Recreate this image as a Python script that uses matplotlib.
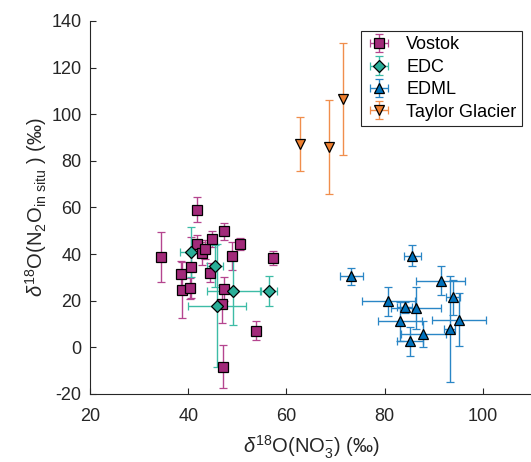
import numpy as np
import matplotlib
matplotlib.use('Agg')
import matplotlib.pyplot as plt

plt.rcParams['font.family'] = ['Liberation Sans', 'DejaVu Sans']
plt.rcParams['mathtext.fontset'] = 'custom'
plt.rcParams['mathtext.rm'] = 'Liberation Sans'
plt.rcParams['mathtext.it'] = 'Liberation Sans:italic'
plt.rcParams['axes.unicode_minus'] = False

# Vostok
vostok_x = [34.4, 38.6, 38.8, 40.6, 40.4, 41.8, 41.8, 42.8, 43.4, 44.4, 44.8, 47.3, 47.3, 46.8, 47.1, 49.0, 50.5, 53.7, 57.2]
vostok_y = [38.6, 31.4, 24.7, 34.3, 25.3, 59.0, 44.3, 40.3, 42.1, 32.1, 46.4, 49.7, 25.0, 18.6, -8.3, 39.3, 44.3, 7.1, 38.3]
vostok_xerr = [0.0, 0.6, 0.6, 0.6, 0.6, 0.6, 0.6, 0.6, 0.6, 0.6, 0.6, 0.6, 0.6, 0.6, 0.6, 0.6, 0.6, 0.6, 0.6]
vostok_yerr = [10.7, 5.5, 12.0, 13.0, 4.5, 5.3, 4.0, 5.0, 4.0, 4.0, 3.5, 3.5, 5.0, 8.0, 9.3, 6.0, 2.5, 4.0, 3.0]

# EDC
edc_x = [40.5, 45.5, 45.8, 49.2, 56.4]
edc_y = [40.9, 34.7, 17.9, 24.1, 24.3]
edc_xerr = [2.2, 1.6, 5.9, 5.4, 1.6]
edc_yerr = [10.6, 9.0, 26.5, 14.3, 6.4]

# EDML
edml_x = [73.2, 85.6, 91.4, 93.9, 80.7, 84.1, 86.3, 83.1, 95.1, 93.2, 87.9, 85.2]
edml_y = [30.4, 39.4, 28.6, 21.4, 19.7, 17.1, 16.9, 11.1, 11.9, 7.9, 5.7, 2.6]
edml_xerr = [2.3, 1.7, 5.0, 1.5, 5.4, 1.5, 5.1, 4.5, 5.5, 1.2, 4.6, 2.7]
edml_yerr = [3.6, 4.6, 6.1, 7.6, 6.2, 2.5, 9.0, 8.5, 11.5, 22.7, 5.4, 6.2]

# Taylor Glacier
tg_x = [62.7, 68.7, 71.5]
tg_y = [87.3, 85.9, 106.7]
tg_xerr = [0.0, 0.0, 0.0]
tg_yerr = [11.6, 20.1, 24.0]

fig = plt.figure(figsize=(5.31, 4.62), dpi=100)
ax = fig.add_axes([0.1695, 0.1472, 0.8324, 0.8074])

series = [
    ('Vostok', vostok_x, vostok_y, vostok_xerr, vostok_yerr, 's', '#A22A7A', '#B5458F', 6.5),
    ('EDC', edc_x, edc_y, edc_xerr, edc_yerr, 'D', '#2AAE98', '#3DBCA6', 6.5),
    ('EDML', edml_x, edml_y, edml_xerr, edml_yerr, '^', '#0072BD', '#2A86C6', 7.5),
    ('Taylor Glacier', tg_x, tg_y, tg_xerr, tg_yerr, 'v', '#EE7F2F', '#F08E4C', 7.5),
]

for name, x, y, xe, ye, m, face, line, ms in series:
    ax.errorbar(x, y, xerr=xe, yerr=ye, fmt=m, ms=ms, mfc=face, mec='black',
                mew=0.9, ecolor=line, elinewidth=1.0, capsize=3.2, capthick=1.0,
                label=name)

ax.set_xlim(20, 110)
ax.set_ylim(-20, 140)
ax.set_xticks([20, 40, 60, 80, 100])
ax.set_yticks(np.arange(-20, 141, 20))

for s in ['top', 'right']:
    ax.spines[s].set_visible(False)
for s in ['left', 'bottom']:
    ax.spines[s].set_color('#262626')
    ax.spines[s].set_linewidth(0.8)
ax.tick_params(direction='in', length=4, width=0.8, colors='#262626',
               labelsize=13)
ax.tick_params(axis='x', pad=10)
ax.tick_params(axis='y', pad=6)

ax.set_xlabel(r'$\it{\delta}^{18}$O(NO$_3^{-}$) (‰)', fontsize=14.5, color='#262626', labelpad=6)
ax.set_ylabel(r'$\it{\delta}^{18}$O(N$_2$O$_{\rm in\ situ}$ ) (‰)', fontsize=14.5, color='#262626', labelpad=2)

leg = ax.legend(loc='upper right', bbox_to_anchor=(522 / 531, 1 - 31 / 462),
                bbox_transform=fig.transFigure, borderaxespad=0, fontsize=13,
                fancybox=False, edgecolor='#262626', framealpha=1,
                handlelength=1.4, handletextpad=0.8, labelspacing=0.3, borderpad=0.3)
leg.get_frame().set_linewidth(0.8)

fig.savefig('out.png', dpi=100)
